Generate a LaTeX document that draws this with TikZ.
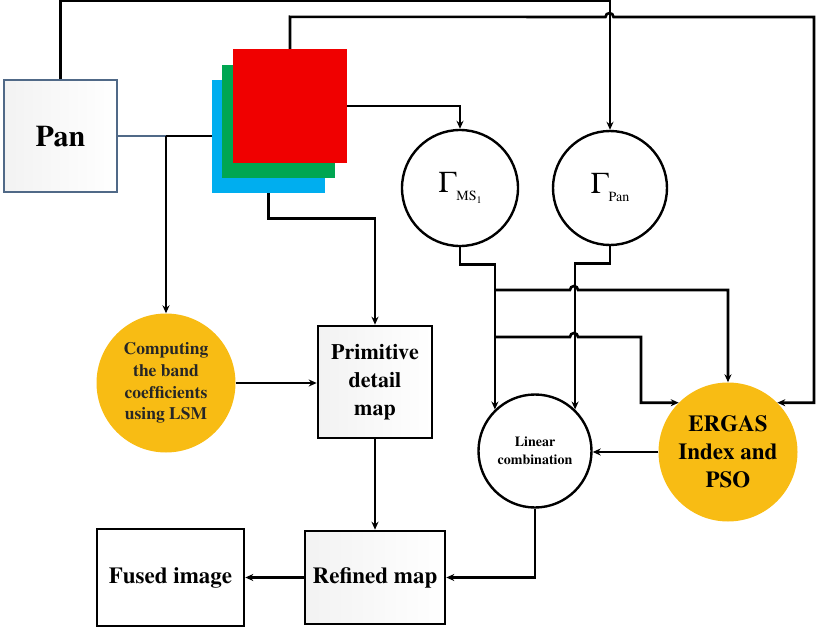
\documentclass[tikz,border=0pt]{standalone}
\usepackage[T1]{fontenc}
\usepackage{mathptmx}
\usepackage{xcolor}
\usepackage{tikz}
\usetikzlibrary{positioning, arrows.meta}

\definecolor{panedge}{RGB}{80,105,135}
\definecolor{msred}{RGB}{240,0,0}
\definecolor{msgreen}{RGB}{0,166,81}
\definecolor{msblue}{RGB}{0,174,239}
\definecolor{gold}{RGB}{248,188,20}

\begin{document}
\begin{tikzpicture}[x=1pt,y=-1pt]
	\tikzstyle{box}=[rectangle,draw=black,line width=2.6pt,left color=gray!10,right color=white,font=\bfseries]
	\tikzstyle{band}=[rectangle,minimum size=113pt,inner sep=0pt]
	\tikzstyle{ring}=[circle,draw=black,line width=2.4pt,fill=white,inner sep=0pt]
	\tikzstyle{disc}=[circle,fill=gold,inner sep=0pt,font=\bfseries,align=center]
	\tikzstyle{arr}=[line width=2.6pt,-{Stealth[length=8pt,width=7pt]}]
	\tikzstyle{wire}=[line width=2.6pt]
	\useasboundingbox (0,0) rectangle (820,629);
	% images
	\node[box,draw=panedge,line width=2pt,minimum width=113pt,minimum height=112pt,font=\fontsize{30}{36}\selectfont\bfseries](pan) at (60.5,136) {Pan};
	\node[band,fill=msblue](blue) at (268.5,136.5) {};
	\node[band,fill=msgreen](green) at (278.5,121.5) {};
	\node[band,fill=msred,minimum size=114pt](red) at (290,106) {};
	% operators
	\node[ring,minimum size=116pt](gms) at (460,188) {\fontsize{30}{30}\selectfont$\Gamma$\raisebox{-8pt}{\fontsize{14}{14}\selectfont MS\raisebox{-3pt}{\fontsize{10}{10}\selectfont 1}}};
	\node[ring,minimum size=114pt](gpan) at (610,188) {\fontsize{30}{30}\selectfont$\Gamma$\raisebox{-8pt}{\fontsize{14}{14}\selectfont Pan}};
	\node[disc,minimum size=139pt,font=\fontsize{17.5}{21.7}\selectfont\bfseries,text=black!85](lsm) at (166,383) {Computing\\the band\\coefficients\\using LSM};
	\node[box,minimum width=114pt,minimum height=112pt,align=center,font=\fontsize{22}{28}\selectfont\bfseries](prim) at (375,382) {Primitive\\detail\\map};
	\node[ring,minimum size=113pt,align=center,font=\fontsize{14}{18}\selectfont\bfseries](lc) at (535,451) {Linear\\combination};
	\node[disc,minimum size=139pt,font=\fontsize{23}{28}\selectfont\bfseries](ergas) at (728,452) {ERGAS\\Index and\\PSO};
	\node[box,minimum width=140pt,minimum height=93pt,font=\fontsize{23}{28}\selectfont\bfseries](refined) at (375,577.5) {Refined map};
	\node[box,right color=white,left color=white,minimum width=147pt,minimum height=97pt,font=\fontsize{23}{28}\selectfont\bfseries](fused) at (170.5,577.5) {Fused image};
	% junctions
	\coordinate (split) at (166,136);
	\coordinate (b1) at (496,290);
	\coordinate (b2) at (496,337);
	% connectors
	\draw[wire,draw=panedge,line width=2pt] (pan.east) -- (split);
	\draw[wire] (split) -- (blue.west |- split);
	\draw[arr] (split) -- (lsm.north);
	\draw[arr] (pan.north) -- ++(0,-78) -| (gpan.north);
	\draw[arr] (red.north) -- ++(0,-32) -- (605.5,17) arc[start angle=180,end angle=0,radius=4pt] -- (814,17) |- (ergas.45);
	\draw[arr] (red.east) -| (gms.north);
	\draw[arr] (blue.south) -- ++(0,25) -| (prim.north);
	\draw[arr] (lsm.east) -- (lsm.east -| prim.west);
	\draw[arr] (prim.south) -- (refined.north);
	\draw[arr] (refined.west) -- (fused.east);
	\draw[arr] (lc.south) |- (refined.east);
	\draw[arr] (ergas.west) -- (ergas.west -| lc.east);
	\draw[arr] (gms.south) -- ++(0,17) -| (lc.134);
	\draw[arr] (gpan.south) -- ++(0,17) -| (lc.46);
	\draw[arr] (b1) -- (570,290) arc[start angle=180,end angle=0,radius=4pt] -| (ergas.north);
	\draw[arr] (b2) -- (570,337) arc[start angle=180,end angle=0,radius=4pt] -- (641,337) |- (ergas.135);
\end{tikzpicture}
\end{document}
